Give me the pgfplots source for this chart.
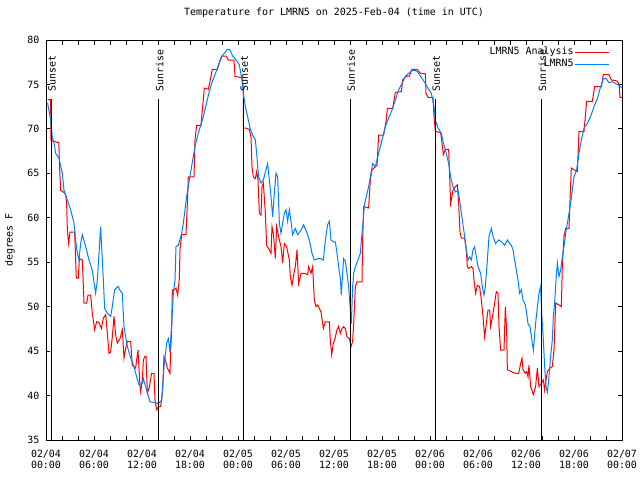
\documentclass[border=0pt]{standalone}
\usepackage{pgfplots}
\pgfplotsset{compat=1.18}
\usepackage{fontspec}
\setmainfont{DejaVu Sans Mono}
\definecolor{obsblue}{RGB}{0,128,255}
\definecolor{anred}{RGB}{255,0,0}
\pgfplotsset{legend image code/.code={\path (0bp,0bp) -- (6bp,0bp); \draw[#1] (6bp,0bp) -- (34bp,0bp);}}
\begin{document}
\begin{tikzpicture}[font=\fontsize{10}{11}\selectfont]
\useasboundingbox (-46bp,-40bp) rectangle (594bp,440bp);
\begin{axis}[
  scale only axis, width=576bp, height=400bp,
  xmin=0, xmax=72, ymin=35, ymax=80,
  xtick={0,6,...,72},
  xticklabels={02/04\\00:00,02/04\\06:00,02/04\\12:00,02/04\\18:00,02/05\\00:00,02/05\\06:00,02/05\\12:00,02/05\\18:00,02/06\\00:00,02/06\\06:00,02/06\\12:00,02/06\\18:00,02/07\\00:00},
  minor xtick={2,4,8,10,14,16,20,22,26,28,32,34,38,40,44,46,50,52,56,58,62,64,68,70},
  ytick={35,40,...,80},
  tick align=inside,
  major tick length=4.5bp, minor tick length=4.5bp,
  tick style={black, line width=0.8bp},
  axis line style={line width=0.9bp},
  /pgf/number format/assume math mode=true,
  xticklabel style={align=center, font=\fontsize{10}{11}\selectfont, yshift=-7bp},
  yticklabel style={xshift=-3bp},
  title={Temperature for LMRN5 on 2025-Feb-04 (time in UTC)},
  title style={at={(0.5,1)}, anchor=center, yshift=21bp},
  ylabel={degrees F},
  ylabel style={at={(axis description cs:-0.0625,0.5)}, anchor=center},
  legend plot pos=right,
  legend style={draw=none, fill=none, at={(0.979,0.985)}, anchor=north east,
    cells={anchor=east}, inner sep=0pt,
    nodes={inner sep=1bp, text height=7.5bp, text depth=2.5bp}},
]
\addplot[anred, line width=1bp] coordinates {
(0.25,73.3) (0.58,73.3) (0.6,71.0) (0.62,68.75) (0.96,68.6) (1.6,68.45) (1.65,67.0) (1.75,64.6) (1.83,63.1) (2.17,62.9) (2.46,62.6) (2.58,61.6) (2.67,58.6) (2.83,57.1) (3.0,58.4) (3.58,58.4) (3.79,53.2) (4.04,53.2) (4.17,55.4) (4.54,55.25) (4.75,50.4) (5.08,50.4) (5.25,51.3) (5.58,51.3) (5.79,49.25) (6.08,47.4) (6.33,48.3) (6.625,48.2) (6.92,47.55) (7.17,48.7) (7.46,49.1) (7.67,47.0) (7.875,44.75) (8.08,44.9) (8.29,46.6) (8.5,48.9) (8.71,46.8) (8.92,45.9) (9.25,46.4) (9.54,47.4) (9.75,44.2) (9.96,45.3) (10.17,46.1) (10.58,46.1) (10.79,43.4) (11.2,43.1) (11.5,45.1) (11.75,41.0) (11.83,40.4) (12.04,41.75)
(12.17,44.0) (12.375,44.4) (12.5,44.4) (12.67,40.25) (12.92,41.0) (13.2,42.5) (13.5,42.5) (13.625,39.5) (13.83,38.4) (14.04,38.75) (14.33,38.75) (14.58,40.6) (14.75,44.4) (14.92,44.0) (15.17,43.1) (15.5,42.5) (15.58,45.1) (15.71,47.4) (15.79,51.9) (16.04,51.9) (16.25,52.1) (16.46,51.3) (16.67,53.2) (16.75,56.4) (16.96,58.1) (17.5,58.1) (17.67,61.6) (17.79,64.6) (18.5,64.6) (18.625,68.75) (18.83,70.4) (19.375,70.4) (19.67,73.4) (19.79,74.6) (20.3,74.45) (20.79,76.7) (21.42,76.7) (21.75,77.7) (21.96,78.2) (22.5,78.2) (22.79,77.75) (23.5,77.75) (23.625,75.9) (24.25,75.8)
(24.5,75.8) (24.67,74.4) (24.68,70.1) (24.92,70.1) (25.42,69.95) (25.625,69.1) (25.75,65.75) (25.92,64.6) (26.17,64.4) (26.33,65.2) (26.5,64.25) (26.67,60.5) (26.875,60.3) (27.0,63.5) (27.17,63.9) (27.42,60.5) (27.58,56.9) (27.92,56.4) (28.125,56.0) (28.25,59.0) (28.42,58.25) (28.67,55.4) (28.83,59.0) (29.0,58.25) (29.17,57.5) (29.375,56.75) (29.58,54.9) (29.79,57.1) (30.08,56.75) (30.42,55.25) (30.54,53.4) (30.75,52.4) (30.92,53.4) (31.17,54.5) (31.375,56.4) (31.58,52.6) (31.875,53.75) (32.3,53.75) (32.7,53.6) (32.83,54.5) (33.125,53.75) (33.33,54.5) (33.54,50.75) (33.75,50.0) (33.96,50.2) (34.375,49.4) (34.67,47.55) (34.92,48.3) (35.42,48.3) (35.54,46.25) (35.71,44.6) (35.92,45.9)
(36.08,46.25) (36.375,47.4) (36.58,47.8) (36.79,47.0) (37.0,47.55) (37.2,47.75) (37.42,47.55) (37.625,46.6) (37.92,46.4) (38.125,45.5) (38.33,46.1) (38.46,48.1) (38.67,52.25) (38.875,52.8) (39.5,52.8) (39.58,57.5) (39.71,61.25) (40.33,61.1) (40.54,64.25) (40.75,65.4) (41.375,65.9) (41.58,69.3) (42.2,69.3) (42.5,70.8) (42.67,72.3) (43.33,72.3) (43.67,74.1) (44.42,74.2) (44.58,75.5) (45.0,75.9) (45.42,75.95) (45.75,76.7) (46.375,76.7) (46.79,76.25) (47.42,76.2) (47.5,74.0) (47.75,73.55)
(48.375,73.55) (48.5,71.4) (48.67,69.7) (49.33,69.6) (49.5,68.4) (49.67,67.1) (49.92,67.7) (50.33,67.7) (50.46,64.6) (50.58,61.6) (50.875,63.1) (51.17,63.5) (51.42,63.7) (51.58,61.6) (51.75,58.4) (51.92,57.7) (52.33,57.7) (52.54,56.4) (52.67,54.5) (52.83,54.3) (53.17,54.5) (53.375,54.3) (53.5,53.0) (53.7,51.5) (53.92,52.4) (54.2,52.25) (54.42,50.75) (54.625,48.9) (54.83,46.6) (55.04,48.1) (55.25,49.6) (55.46,49.6) (55.58,47.75) (55.875,49.25) (56.08,50.4) (56.29,51.7) (56.5,51.5) (56.625,47.75) (56.83,45.1) (57.25,45.1) (57.42,50.0) (57.58,47.4) (57.67,42.9) (58.17,42.7) (58.67,42.5) (59.08,42.5) (59.33,43.6) (59.5,44.2) (59.625,42.9) (59.92,42.5)
(60.08,42.7) (60.25,42.1) (60.375,43.4) (60.58,41.0) (60.92,40.1) (61.2,41.0) (61.42,43.1) (61.625,41.0) (61.92,41.4) (62.17,41.75) (62.33,40.6) (62.5,41.75) (62.67,42.7) (63.0,43.1) (63.29,43.25) (63.5,45.1) (63.71,50.4) (64.125,50.2) (64.42,50.0) (64.54,54.5) (64.75,57.9) (64.96,58.8) (65.375,58.8) (65.5,62.0) (65.67,65.6) (66.0,65.4) (66.42,65.2) (66.625,69.7) (67.25,69.7) (67.58,73.1) (68.29,73.1) (68.58,74.75) (69.42,74.75) (69.67,76.1) (70.375,76.1) (70.67,75.5) (71.33,75.4) (71.625,75.1) (71.75,73.55) (72.0,73.55)
};
\addlegendentry{LMRN5 Analysis}
\addplot[obsblue, line width=1bp] coordinates {
(0.2,72.9) (0.58,71.0) (0.79,69.1) (1.0,68.4) (1.21,67.25) (1.625,66.7) (2.04,65.0) (2.25,63.1) (2.67,62.0) (3.08,60.9) (3.5,59.4) (3.71,57.5) (3.92,56.0) (4.125,55.25) (4.33,57.1) (4.54,58.1) (4.96,56.75) (5.375,55.25) (5.79,54.1) (6.2,51.5) (6.42,53.0) (6.625,56.0) (6.83,59.0) (7.04,55.25) (7.17,53.0) (7.33,49.8) (7.67,49.25) (8.08,48.9) (8.29,50.0) (8.58,51.9) (9.0,52.3) (9.33,51.7) (9.54,51.5) (9.75,47.75) (10.17,45.5) (10.67,44.0) (11.0,43.25) (11.33,42.1) (11.625,41.2) (12.04,41.4)
(12.17,41.9) (12.58,40.6) (13.0,39.3) (13.625,39.2) (14.04,39.1) (14.46,39.5) (14.75,43.25) (15.08,45.9) (15.3,46.4) (15.5,44.9) (15.71,48.1) (15.92,51.5) (16.125,53.0) (16.25,56.75) (16.54,56.9) (16.96,58.25) (17.17,59.4) (17.58,62.4) (17.79,63.5) (18.2,65.75) (18.625,68.0) (19.04,69.5) (19.67,71.4) (20.3,73.8) (20.7,75.1) (21.33,76.6) (21.96,78.1) (22.375,78.6) (22.67,78.95) (23.0,78.9) (23.33,78.2) (23.83,77.7)
(24.17,77.2) (24.5,75.5) (24.67,74.0) (24.92,72.5) (25.2,71.4) (25.5,70.1) (25.83,69.3) (26.17,68.75) (26.33,67.25) (26.58,64.6) (26.875,63.9) (27.17,64.25) (27.5,65.4) (27.7,66.1) (27.92,64.25) (28.125,62.4) (28.33,60.1) (28.54,62.75) (28.75,65.0) (28.96,64.6) (29.17,59.4) (29.375,58.25) (29.58,59.4) (29.79,60.5) (30.0,60.9) (30.2,59.6) (30.42,60.9) (30.625,59.6) (30.83,58.1) (31.17,58.8) (31.46,58.1) (31.875,58.6) (32.2,59.2) (32.58,58.4) (32.92,57.5) (33.25,56.0) (33.54,55.25) (33.96,55.4) (34.375,55.4) (34.67,55.25) (34.92,57.5) (35.2,59.2) (35.42,59.6) (35.625,57.5) (35.92,57.3)
(36.17,57.3) (36.375,56.0) (36.58,54.5) (36.79,53.2) (36.92,51.3) (37.08,53.75) (37.2,55.4) (37.42,55.1) (37.625,53.75) (37.83,52.25) (38.04,49.6) (38.17,48.1) (38.33,52.25) (38.46,53.75) (38.67,54.5) (39.0,55.25) (39.29,56.0) (39.42,57.5) (39.625,59.4) (39.79,61.4) (40.04,62.4) (40.33,63.5) (40.625,65.0) (40.83,66.1) (41.17,65.75) (41.58,67.25) (42.0,68.75) (42.42,70.25) (42.83,71.2) (43.25,72.1) (43.67,73.25) (44.08,74.4) (44.5,75.1) (44.92,75.9) (45.33,76.25) (45.75,76.55) (46.17,76.6) (46.58,76.25) (47.0,75.7) (47.42,75.1) (47.83,74.45)
(48.17,74.0) (48.5,72.5) (48.67,71.0) (49.0,70.1) (49.42,69.5) (49.625,68.6) (50.04,67.25) (50.33,66.1) (50.58,64.6) (50.875,63.5) (51.17,62.9) (51.5,63.1) (51.7,62.0) (51.92,60.5) (52.125,59.2) (52.33,57.9) (52.54,56.4) (52.75,55.25) (52.96,55.6) (53.17,55.25) (53.375,56.4) (53.58,56.75) (53.79,55.6) (54.0,54.5) (54.33,53.75) (54.54,52.25) (54.75,51.3) (54.92,52.25) (55.17,55.25) (55.375,57.9) (55.67,58.8) (55.875,57.9) (56.2,57.1) (56.58,57.5) (56.92,57.3) (57.33,56.9) (57.67,57.5) (57.96,57.1) (58.17,56.9) (58.375,56.4) (58.58,55.25) (58.79,54.1) (59.0,53.0) (59.2,51.5) (59.42,51.9) (59.625,50.75) (59.92,50.2)
(60.08,49.25) (60.25,48.1) (60.5,47.75) (60.79,45.9) (60.92,45.1) (61.2,48.1) (61.42,50.0) (61.625,51.5) (61.83,52.25) (61.96,49.25) (62.17,46.25) (62.33,43.25) (62.5,41.0) (62.67,40.4) (62.875,42.1) (63.08,44.4) (63.29,46.25) (63.42,48.9) (63.58,50.4) (63.75,53.0) (63.92,54.9) (64.125,53.4) (64.33,54.1) (64.54,55.6) (64.75,56.75) (64.96,58.25) (65.17,59.4) (65.375,60.5) (65.58,61.6) (65.79,63.1) (66.0,64.6) (66.33,65.4) (66.625,67.25) (66.92,68.75) (67.25,70.1) (67.67,70.6) (68.08,71.4) (68.5,72.5) (68.92,73.4) (69.33,74.75) (69.67,75.6) (69.96,75.7) (70.375,75.2) (70.79,75.3) (71.2,75.1) (71.625,74.9) (72.0,74.6)
};
\addlegendentry{LMRN5}
% sunrise / sunset markers
\addplot[black, line width=1bp, forget plot] coordinates {(0.63,73.36) (0.63,35)};
\addplot[black, line width=1bp, forget plot] coordinates {(14.08,73.36) (14.08,35)};
\addplot[black, line width=1bp, forget plot] coordinates {(24.65,73.36) (24.65,35)};
\addplot[black, line width=1bp, forget plot] coordinates {(38.04,73.36) (38.04,35)};
\addplot[black, line width=1bp, forget plot] coordinates {(48.67,73.36) (48.67,35)};
\addplot[black, line width=1bp, forget plot] coordinates {(61.92,73.36) (61.92,35)};
\node[rotate=90, anchor=west, inner sep=0pt] at (axis cs:0.75,74.15) {Sunset};
\node[rotate=90, anchor=west, inner sep=0pt] at (axis cs:14.2,74.15) {Sunrise};
\node[rotate=90, anchor=west, inner sep=0pt] at (axis cs:24.77,74.15) {Sunset};
\node[rotate=90, anchor=west, inner sep=0pt] at (axis cs:38.16,74.15) {Sunrise};
\node[rotate=90, anchor=west, inner sep=0pt] at (axis cs:48.79,74.15) {Sunset};
\node[rotate=90, anchor=west, inner sep=0pt] at (axis cs:62.04,74.15) {Sunrise};
\end{axis}
\end{tikzpicture}
\end{document}
